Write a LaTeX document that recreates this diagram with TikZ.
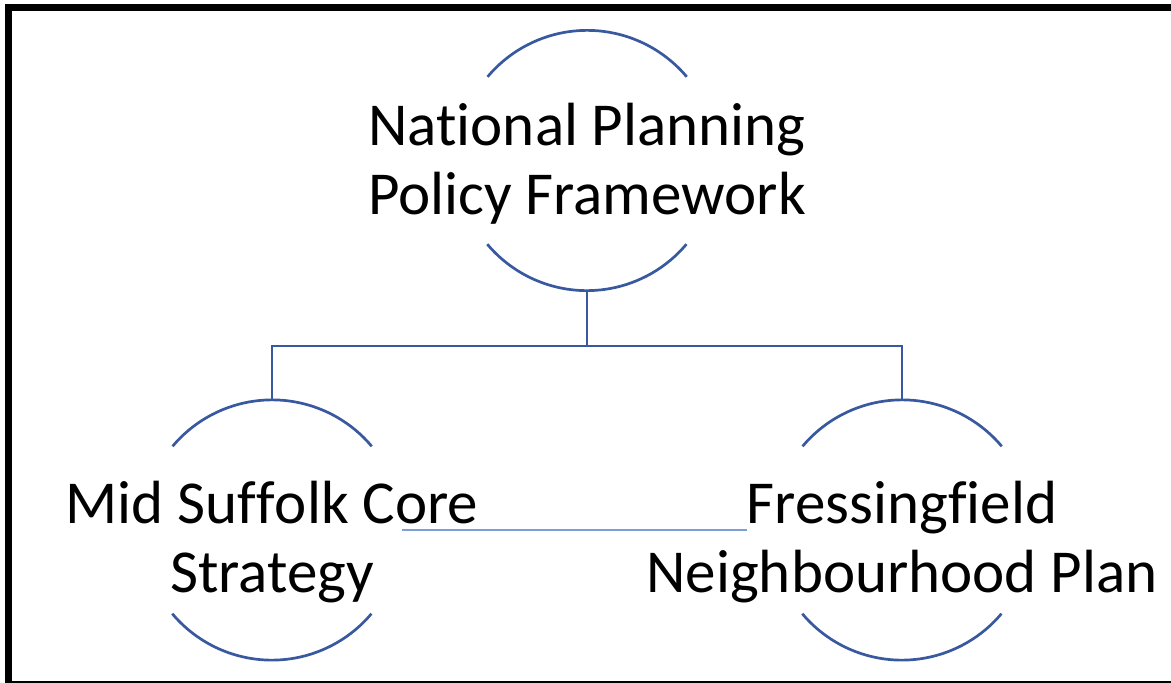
\documentclass[tikz,border=0pt]{standalone}
\usepackage{fontspec}
\setmainfont{Carlito}[RawFeature={-liga,-clig,-dlig,-calt}]
\newcommand{\nolig}{\kern0pt\relax}
\definecolor{linkblue}{RGB}{56,88,160}
\definecolor{thinblue}{RGB}{128,158,214}
\begin{document}
\begin{tikzpicture}[x=1pt,y=-1pt,
  ring/.style={circle,draw=none,minimum size=260pt,inner sep=0pt},
  arcline/.style={draw=linkblue,line width=2.7pt},
  txt/.style={anchor=base,inner sep=0pt,font=\fontsize{61}{69}\selectfont},
  thin/.style={draw=thinblue,line width=1.5pt}]
\useasboundingbox (0,0) rectangle (1171,683);
% frame
\draw[line width=7pt] (8.5,683) -- (8.5,7) -- (1171,7);
\draw[line width=2pt] (5,681.5) -- (1171,681.5);
% rings
\node[ring] (npf) at (587,160.5) {};
\node[ring] (msc) at (272,530) {};
\node[ring] (ffn) at (902,530) {};
\foreach \n in {npf,msc,ffn}{
  \draw[arcline] (\n.40) arc[start angle=40,end angle=140,radius=130pt];
  \draw[arcline] (\n.220) arc[start angle=220,end angle=320,radius=130pt];
}
% texts
\node[txt] (npf1) at (587,145) {Nat\nolig ional Planning};
\node[txt] (npf2) at (587,214) {Policy Framework};
\node[txt] (msc1) at (272,523) {Mid Suf\nolig f\nolig olk Core};
\node[txt] (msc2) at (272,592) {Strategy};
\node[txt] (ffn1) at (902,523) {Fressing\nolig f\nolig ield};
\node[txt] (ffn2) at (902,592) {Neighbourhood Plan};
% connectors
\coordinate (bar) at (587,346);
\draw[arcline] (npf.south) -- (npf.south |- bar) -| (msc.north);
\draw[arcline] (npf.south |- bar) -| (ffn.north);
\draw[thin] (msc.east) -- (msc.east -| ffn1.west);
\end{tikzpicture}
\end{document}
